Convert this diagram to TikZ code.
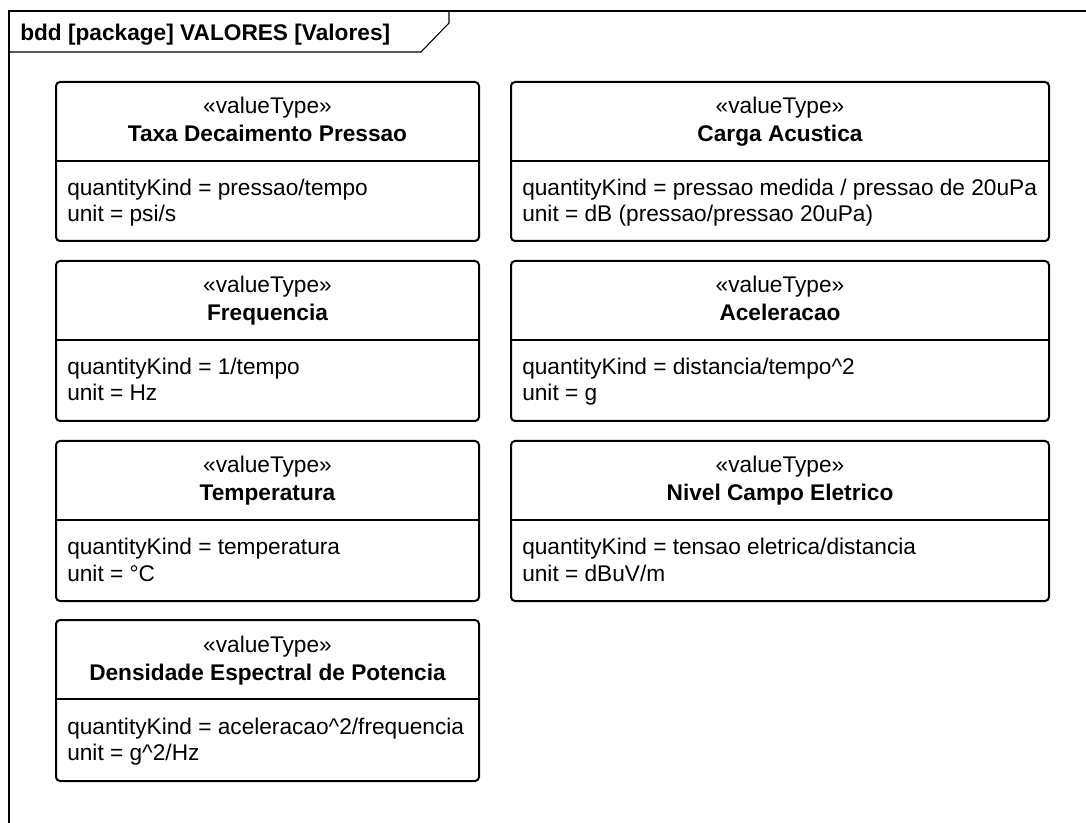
\documentclass[tikz,border=0pt]{standalone}
\usepackage{fontspec}
\setmainfont{Liberation Sans}
\usetikzlibrary{fit}

\newcommand\basefont{\fontsize{17}{20}\selectfont}

% one valueType block: name, left, top, right, bottom, title, quantityKind, unit
\newcommand\valuetypeblock[8]{%
  \node[vtbox, fit={(#2,#3) (#4,#5)}] (#1) {};
  \draw[vtdiv] (#2,{#3+79}) -- (#4,{#3+79});
  \node[vttext, anchor=base] (#1-st) at ({(#2+#4)/2},{#3+32}) {«valueType»};
  \node[vttext, anchor=base, font=\basefont\bfseries] (#1-nm) at ({(#2+#4)/2},{#3+60}) {#6};
  \node[vttext, anchor=base west] (#1-qk) at ({#2+11},{#3+114}) {quantityKind = #7};
  \node[vttext, anchor=base west] (#1-un) at ({#2+11},{#3+140}) {unit = #8};
}

\begin{document}
\begin{tikzpicture}[x=0.75pt, y=-0.75pt,
  font=\basefont,
  vtbox/.style={draw=black, line width=1.5pt, rounded corners=3pt, fill=white, inner sep=0pt},
  vtdiv/.style={draw=black, line width=1.4pt},
  vttext/.style={inner sep=0pt, text=black},
  frameline/.style={draw=black, line width=0.8pt}]
  \useasboundingbox (0,0) rectangle (1086,823);

  % diagram frame and its name tab
  \draw[frameline] (9,823) -- (9,11) -- (1086,11);
  \draw[frameline] (9,52) -- (421,52) -- (449,23) -- (449,11);
  \node[vttext, anchor=base west, font=\basefont\bfseries] (title) at (20,41)
    {bdd [package] VALORES [Valores]};

  % left column
  \valuetypeblock{taxa}{56}{82}{479}{241}{Taxa Decaimento Pressao}{pressao/tempo}{psi/s}
  \valuetypeblock{freq}{56}{261}{479}{421}{Frequencia}{1/tempo}{Hz}
  \valuetypeblock{temp}{56}{441}{479}{601}{Temperatura}{temperatura}{°C}
  \valuetypeblock{dens}{56}{620}{479}{781}{Densidade Espectral de Potencia}{aceleracao\textasciicircum 2/frequencia}{g\textasciicircum 2/Hz}

  % right column
  \valuetypeblock{carga}{511}{82}{1049}{241}{Carga Acustica}{pressao medida / pressao de 20uPa}{dB (pressao/pressao 20uPa)}
  \valuetypeblock{acel}{511}{261}{1049}{421}{Aceleracao}{distancia/tempo\textasciicircum 2}{g}
  \valuetypeblock{nivel}{511}{441}{1049}{601}{Nivel Campo Eletrico}{tensao eletrica/distancia}{dBuV/m}
\end{tikzpicture}
\end{document}
